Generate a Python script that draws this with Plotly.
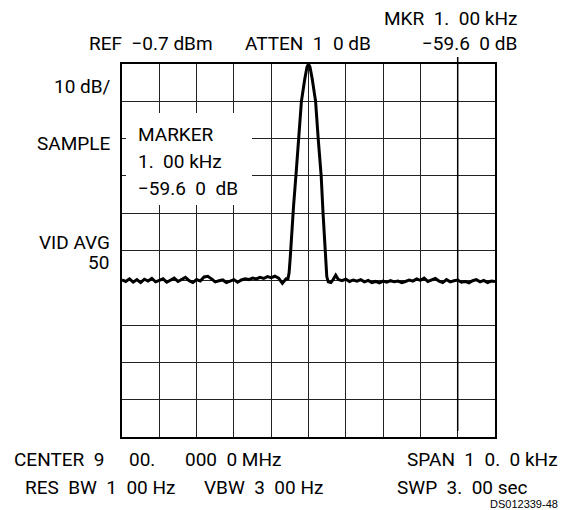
import plotly.graph_objects as go

FONT = "Roboto, Liberation Sans Narrow, sans-serif"

# frequency offset from centre (kHz) and displayed level (dB below reference)
freq_khz = [
    -5.0, -4.9, -4.8, -4.7, -4.6, -4.5, -4.4, -4.3, -4.2, -4.1,
    -4.0, -3.9, -3.8, -3.7, -3.6, -3.5, -3.4, -3.3, -3.2, -3.1,
    -3.0, -2.9, -2.8, -2.7, -2.6, -2.5, -2.4, -2.3, -2.2, -2.1,
    -2.0, -1.9, -1.8, -1.7, -1.6, -1.5, -1.4, -1.3, -1.2, -1.1,
    -1.0, -0.9, -0.8, -0.7, -0.6,
    -0.55, -0.52, -0.49, -0.46, -0.40, -0.33, -0.26, -0.19, -0.10, -0.04,
    0.0, 0.04, 0.10, 0.19, 0.26, 0.34, 0.39, 0.43, 0.46, 0.49,
    0.53, 0.60, 0.66, 0.73, 0.80,
    0.9, 1.0, 1.1, 1.2, 1.3, 1.4, 1.5, 1.6, 1.7, 1.8,
    1.9, 2.0, 2.1, 2.2, 2.3, 2.4, 2.5, 2.6, 2.7, 2.8,
    2.9, 3.0, 3.1, 3.2, 3.3, 3.4, 3.5, 3.6, 3.7, 3.8,
    3.9, 4.0, 4.1, 4.2, 4.3, 4.4, 4.5, 4.6, 4.7, 4.8,
    4.9, 5.0,
]
level_db = [
    -57.9, -58.3, -57.6, -58.5, -57.8, -58.6, -57.7, -58.2, -57.5, -58.4,
    -58.0, -57.6, -58.5, -57.9, -57.4, -58.3, -57.7, -57.2, -58.1, -58.6,
    -57.8, -58.2, -57.1, -56.9, -57.6, -58.4, -58.1, -57.9, -58.6, -58.2,
    -57.8, -58.5, -57.9, -57.6, -57.8, -57.4, -57.6, -57.2, -57.5, -57.0,
    -57.3, -56.9, -57.4, -58.8, -57.6,
    -57.6, -56.0, -52.0, -46.0, -38.0, -29.0, -19.0, -10.0, -4.0, -0.8,
    0.0, -0.8, -4.0, -10.0, -20.0, -30.0, -40.0, -48.0, -54.0, -57.0,
    -58.4, -58.6, -57.8, -56.6, -57.8,
    -58.1, -57.7, -58.3, -57.9, -58.2, -57.8, -58.4, -58.0, -58.6, -58.3,
    -58.7, -58.2, -58.5, -58.1, -58.4, -58.2, -58.6, -58.3, -57.9, -58.2,
    -57.6, -58.0, -57.4, -58.3, -58.0, -57.5, -58.2, -58.6, -57.8, -58.4,
    -58.1, -57.9, -58.5, -58.3, -58.7, -58.1, -57.8, -58.4, -58.0, -58.6,
    -58.2, -58.3,
]

x_grid = [-4, -3, -2, -1, 0, 1, 2, 3, 4]
y_grid = [-10, -20, -30, -40, -50, -58, -70, -80, -90]
marker_khz = 4.0

# the page body has an 8px margin, so the figure is shifted by that much
OFF = 8
W, H = 576 - OFF, 510 - OFF
# plot area in window pixels
L, R, T, B = 122, 495, 64, 437


def px(x):
    return (x - L) / (R - L)


def py(y):
    return (B - y) / (B - T)


fig = go.Figure()

fig.add_trace(
    go.Scatter(
        x=freq_khz,
        y=level_db,
        mode="lines",
        line=dict(color="black", width=3),
        showlegend=False,
        hoverinfo="skip",
    )
)

# marker readout box covers the grid
fig.add_shape(
    type="rect", xref="paper", yref="paper",
    x0=px(126), x1=px(252), y0=py(205), y1=py(113),
    fillcolor="white", line_width=0, layer="above",
)

# marker line
fig.add_shape(
    type="line", xref="x", yref="paper",
    x0=marker_khz, x1=marker_khz, y0=py(431), y1=py(57),
    line=dict(color="black", width=1.5),
)

labels = [
    ("MKR  1.  00 kHz", 519, 19, "right"),
    ("REF  −0.7 dBm", 87, 44, "left"),
    ("ATTEN  1  0 dB", 243, 44, "left"),
    ("−59.6  0 dB", 519, 44, "right"),
    ("10 dB/", 113, 86, "right"),
    ("SAMPLE", 112, 143, "right"),
    ("VID AVG", 112, 242, "right"),
    ("50", 111, 262, "right"),
    ("MARKER", 136, 134, "left"),
    ("1.  00 kHz", 136, 161, "left"),
    ("−59.6  0  dB", 136, 188, "left"),
    ("CENTER  9", 12, 459, "left"),
    ("00.", 127, 459, "left"),
    ("000  0 MHz", 283, 459, "right"),
    ("SPAN  1  0.  0 kHz", 560, 459, "right"),
    ("RES  BW  1  00 Hz", 23, 487, "left"),
    ("VBW  3  00 Hz", 325, 487, "right"),
    ("SWP  3.  00 sec", 395, 487, "left"),
]
for text, x, y, anchor in labels:
    fig.add_annotation(
        x=px(x), y=py(y), xref="paper", yref="paper",
        text=text, showarrow=False, xanchor=anchor, yanchor="middle",
        font=dict(family=FONT, size=19, color="black"),
    )

fig.add_annotation(
    x=px(560), y=py(504), xref="paper", yref="paper",
    text="DS012339-48", showarrow=False, xanchor="right", yanchor="middle",
    font=dict(family="Liberation Sans, Arial, sans-serif", size=11, color="black"),
)

fig.update_layout(
    width=W,
    height=H,
    paper_bgcolor="white",
    plot_bgcolor="white",
    margin=dict(l=L - OFF, r=576 - R, t=T - OFF, b=510 - B, pad=0),
    showlegend=False,
)
fig.update_xaxes(
    range=[-5, 5],
    tickvals=x_grid,
    showticklabels=False,
    ticks="",
    gridcolor="#222222",
    gridwidth=1.3,
    zeroline=False,
    showline=True,
    mirror=True,
    linecolor="black",
    linewidth=2,
)
fig.update_yaxes(
    range=[-100, 0],
    tickvals=y_grid,
    showticklabels=False,
    ticks="",
    gridcolor="#222222",
    gridwidth=1.3,
    zeroline=False,
    showline=True,
    mirror=True,
    linecolor="black",
    linewidth=2,
)

fig.write_html("out.html")
